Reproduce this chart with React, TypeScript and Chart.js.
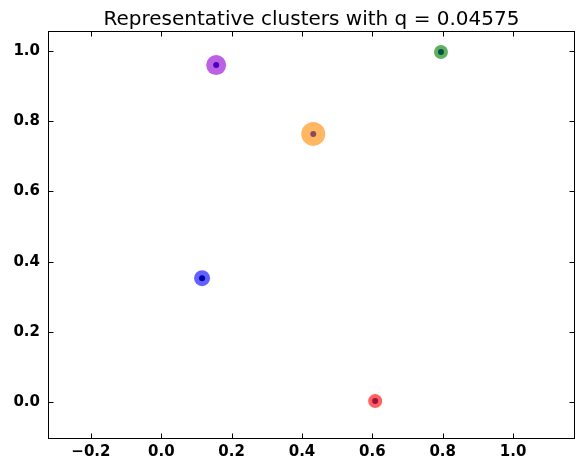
import React, { useEffect, useRef } from "react";
import { Chart, registerables } from "chart.js";

Chart.register(...registerables);

const TITLE = "Representative clusters with q = 0.04575";
const clusterX = [0.116, 0.156, 0.432, 0.795, 0.608];
const clusterY = [0.353, 0.960, 0.764, 0.997, 0.003];
const clusterSize = [8, 10, 12, 7, 7];
const outerColors = [
  "rgba(0,0,255,0.62)",
  "rgba(148,0,211,0.62)",
  "rgba(255,140,0,0.62)",
  "rgba(0,128,0,0.62)",
  "rgba(255,0,0,0.62)",
];
const innerColors = ["#0000a0", "#4a00c0", "#8a4a5e", "#005048", "#a0103c"];
const xTicks = [-0.2, 0.0, 0.2, 0.4, 0.6, 0.8, 1.0];
const yTicks = [0.0, 0.2, 0.4, 0.6, 0.8, 1.0];
const xMin = -0.322, xMax = 1.176;
const yMin = -0.105, yMax = 1.057;

const fmt = (v: number) => v.toFixed(1).replace("-", "\u2212");

const framePlugin = {
  id: "frame",
  afterDraw(chart: any) {
    const { ctx, chartArea: a, scales } = chart;
    ctx.save();
    ctx.strokeStyle = "#000";
    ctx.lineWidth = 1;
    const L = Math.round(a.left) + 0.5, R = Math.round(a.right) - 0.5;
    const T = Math.round(a.top) + 0.5, B = Math.round(a.bottom) - 0.5;
    ctx.strokeRect(L, T, R - L, B - T);
    ctx.beginPath();
    const tl = 5;
    xTicks.forEach((v) => {
      const x = Math.round(scales.x.getPixelForValue(v)) + 0.5;
      ctx.moveTo(x, B); ctx.lineTo(x, B - tl);
      ctx.moveTo(x, T); ctx.lineTo(x, T + tl);
    });
    yTicks.forEach((v) => {
      const y = Math.round(scales.y.getPixelForValue(v)) + 0.5;
      ctx.moveTo(L, y); ctx.lineTo(L + tl, y);
      ctx.moveTo(R, y); ctx.lineTo(R - tl, y);
    });
    ctx.stroke();
    ctx.fillStyle = "#000";
    ctx.font = "20px 'DejaVu Sans'";
    ctx.textAlign = "center";
    ctx.textBaseline = "alphabetic";
    ctx.fillText(TITLE, (a.left + a.right) / 2, 25);
    ctx.restore();
  },
};

export default function App() {
  const ref = useRef<HTMLCanvasElement | null>(null);
  useEffect(() => {
    document.body.style.margin = "0";
    const outer = clusterX.map((x, i) => ({ x, y: clusterY[i] }));
    const chart = new Chart(ref.current!, {
      type: "scatter",
      data: {
        datasets: [
          {
            data: outer,
            pointRadius: 3,
            pointBackgroundColor: innerColors,
            pointBorderWidth: 0,
            order: 0,
          },
          {
            data: outer,
            pointRadius: clusterSize,
            pointBackgroundColor: outerColors,
            pointBorderWidth: 0,
            order: 1,
          },
        ],
      },
      options: {
        animation: false,
        responsive: false,
        devicePixelRatio: 1,
        layout: { autoPadding: false, padding: { top: 31, right: 1, left: 0, bottom: 0 } },
        plugins: { legend: { display: false }, tooltip: { enabled: false }, title: { display: false } },
        scales: {
          x: {
            type: "linear",
            min: xMin,
            max: xMax,
            afterBuildTicks: (s: any) => { s.ticks = xTicks.map((v) => ({ value: v })); },
            afterFit: (s: any) => { s.height = 25; s.paddingLeft = 0; s.paddingRight = 0; },
            grid: { display: false, drawTicks: false },
            border: { display: false },
            ticks: {
              padding: 4,
              color: "#000",
              font: { family: "'DejaVu Sans'", size: 15, weight: "bold" },
              callback: (v: any) => fmt(Number(v)),
              maxRotation: 0,
            },
          },
          y: {
            type: "linear",
            min: yMin,
            max: yMax,
            afterBuildTicks: (s: any) => { s.ticks = yTicks.map((v) => ({ value: v })); },
            afterFit: (s: any) => { s.width = 48; s.paddingTop = 0; s.paddingBottom = 0; },
            grid: { display: false, drawTicks: false },
            border: { display: false },
            ticks: {
              padding: 8,
              color: "#000",
              font: { family: "'DejaVu Sans'", size: 15, weight: "bold" },
              callback: (v: any) => fmt(Number(v)),
            },
          },
        },
      },
      plugins: [framePlugin],
    } as any);
    return () => chart.destroy();
  }, []);
  return (
    <div style={{ width: 576, height: 464, background: "#fff" }}>
      <canvas ref={ref} width={576} height={464} style={{ display: "block" }} />
    </div>
  );
}
